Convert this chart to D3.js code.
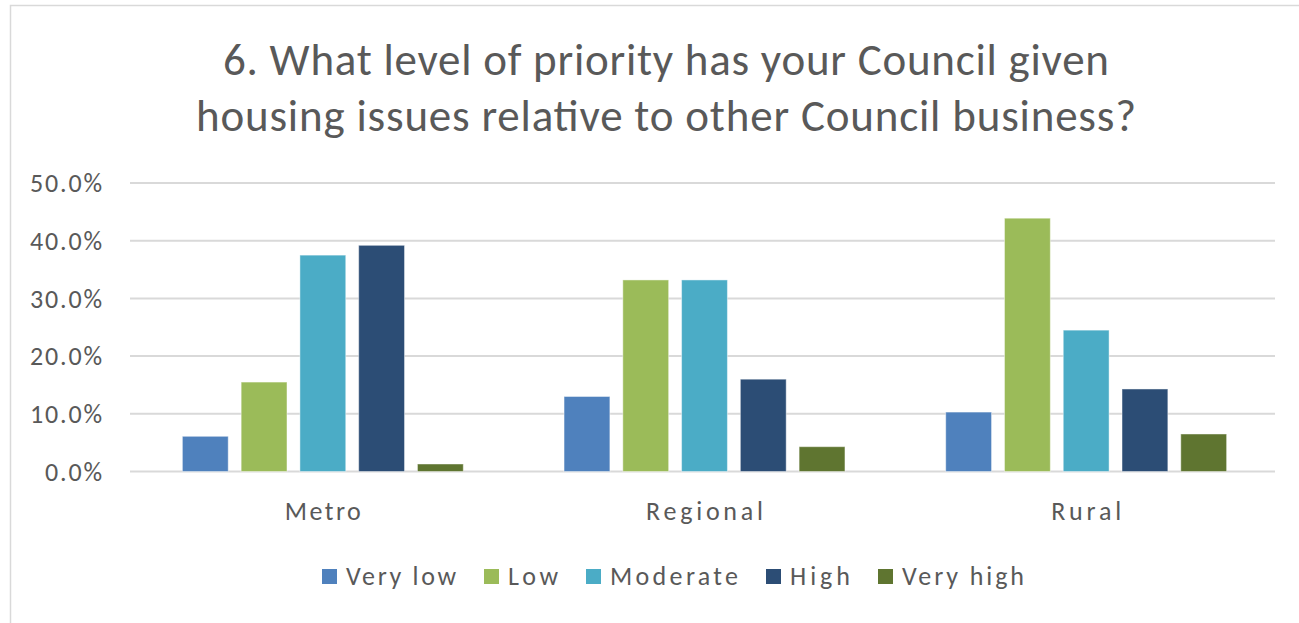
<!DOCTYPE html>
<html>
<head>
<meta charset="utf-8">
<script src="https://cdn.jsdelivr.net/npm/d3@7/dist/d3.min.js"></script>
<style>
  html, body { margin: 0; padding: 0; background: #ffffff; }
  svg { display: block; }
  text { font-family: Carlito, Calibri, Lato, "Open Sans", sans-serif; fill: #595959; }
</style>
</head>
<body>
<svg id="chart" width="1299" height="623"></svg>
<script>
const categories = ["Metro", "Regional", "Rural"];
const seriesNames = ["Very low", "Low", "Moderate", "High", "Very high"];
const veryLow  = [6.1, 13.0, 10.3];
const low      = [15.5, 33.2, 43.9];
const moderate = [37.5, 33.2, 24.5];
const high     = [39.2, 16.0, 14.3];
const veryHigh = [1.3, 4.3, 6.5];
const seriesValues = [veryLow, low, moderate, high, veryHigh];
const colors = ["#4F81BD", "#9BBB59", "#4BACC6", "#2C4D75", "#5F7530"];
const yTicks = [0, 10, 20, 30, 40, 50];
const titleLines = ["6. What level of priority has your Council given",
                    "housing issues relative to other Council business?"];

const svg = d3.select("#chart");

// chart area border
svg.append("rect")
  .attr("x", 10.5).attr("y", 5.5)
  .attr("width", 1400).attr("height", 700)
  .attr("fill", "#fff").attr("stroke", "#d9d9d9").attr("stroke-width", 1.5);

// title
const titleWidths = [886, 940];
const titleY = [75, 131];
titleLines.forEach((t, i) => {
  svg.append("text")
    .attr("x", 666).attr("y", titleY[i])
    .attr("text-anchor", "middle")
    .attr("font-size", 45)
    .attr("textLength", titleWidths[i])
    .attr("lengthAdjust", "spacing")
    .text(t);
});

const x0 = d3.scaleBand().domain(categories).range([132, 1277])
  .paddingInner(0.264).paddingOuter(0.132);
const x1 = d3.scaleBand().domain(seriesNames).range([0, x0.bandwidth()])
  .paddingInner(0.22);
const y = d3.scaleLinear().domain([0, 50]).range([471.5, 183]);

// gridlines
const grid = svg.append("g");
grid.selectAll("line").data(yTicks).join("line")
  .attr("x1", 130).attr("x2", 1275)
  .attr("y1", d => y(d)).attr("y2", d => y(d))
  .attr("stroke", "#d9d9d9").attr("stroke-width", 2);

// y axis labels
const yAxis = d3.axisLeft(y).tickValues(yTicks).tickSize(0).tickPadding(0)
  .tickFormat(d => d3.format(".1f")(d) + "%");
const gy = svg.append("g").attr("transform", "translate(102,0)").call(yAxis);
gy.select(".domain").remove();
gy.attr("font-family", null).attr("font-size", null);
gy.selectAll("text")
  .attr("font-size", 26)
  .attr("fill", "#595959")
  .attr("dy", "0.34em")
  .attr("textLength", d => d >= 10 ? 72 : 57)
  .attr("lengthAdjust", "spacing");

// bars
const groups = svg.append("g").selectAll("g").data(categories).join("g")
  .attr("transform", d => `translate(${x0(d)},0)`);
groups.selectAll("rect")
  .data((c, ci) => seriesNames.map((s, si) => ({ s, si, v: seriesValues[si][ci] })))
  .join("rect")
  .attr("x", d => x1(d.s))
  .attr("width", x1.bandwidth())
  .attr("y", d => y(d.v))
  .attr("height", d => y(0) - y(d.v))
  .attr("fill", d => colors[d.si])
  .attr("stroke", "rgba(255,255,255,0.45)")
  .attr("stroke-width", 1);

// x axis labels
const catWidths = { "Metro": 76, "Regional": 117, "Rural": 70 };
const xAxis = d3.axisBottom(x0).tickSize(0).tickPadding(0);
const gx = svg.append("g").attr("transform", "translate(0,520)").call(xAxis);
gx.select(".domain").remove();
gx.attr("font-family", null).attr("font-size", null);
gx.selectAll("text")
  .attr("font-size", 26)
  .attr("fill", "#595959")
  .attr("dy", 0)
  .attr("textLength", d => catWidths[d])
  .attr("lengthAdjust", "spacing");

// legend
const legWidths = [110, 50, 128, 60, 122];
const legend = svg.append("g");
const sq = 15, gapSqText = 9, gapItems = 28;
const itemW = legWidths.map(w => sq + gapSqText + w);
const totalW = d3.sum(itemW) + gapItems * (itemW.length - 1);
let cx = 673 - totalW / 2;
seriesNames.forEach((s, i) => {
  const g = legend.append("g").attr("transform", `translate(${cx},0)`);
  g.append("rect").attr("x", 0).attr("y", 569).attr("width", sq).attr("height", sq)
    .attr("fill", colors[i]);
  g.append("text").attr("x", sq + gapSqText).attr("y", 585)
    .attr("font-size", 26)
    .attr("textLength", legWidths[i]).attr("lengthAdjust", "spacing")
    .text(s);
  cx += itemW[i] + gapItems;
});
</script>
</body>
</html>
